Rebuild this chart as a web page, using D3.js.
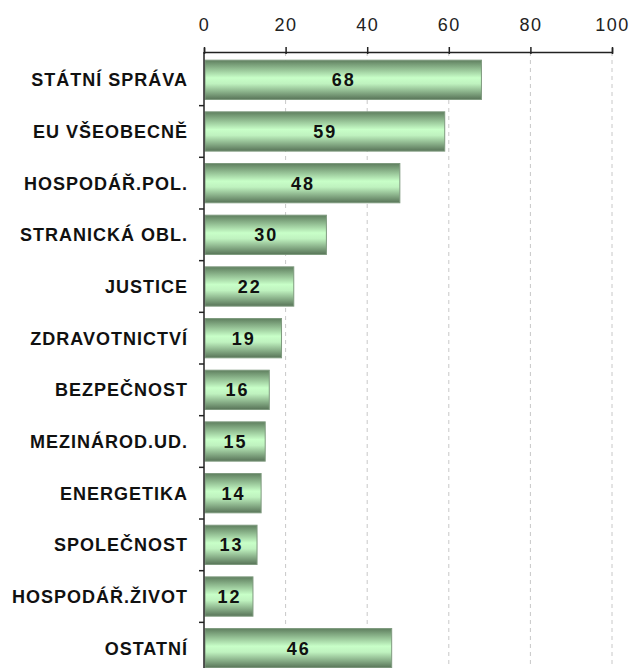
<!DOCTYPE html>
<html lang="cs">
<head>
<meta charset="UTF-8">
<title>Témata</title>
<script src="https://d3js.org/d3.v7.min.js"></script>
<style>
    body { margin: 0; padding: 0; background: #ffffff; }
    svg { display: block; }
    .cat { font-family: "Liberation Sans", Arial, sans-serif; font-weight: bold; font-size: 18px; letter-spacing: 1px; fill: #111; }
    .val { font-family: "Liberation Sans Narrow", "Liberation Sans", Arial, sans-serif; font-weight: bold; font-size: 18px; letter-spacing: 2px; fill: #111; }
    .tick text { font-family: "Liberation Sans Narrow", "Liberation Sans", sans-serif; font-size: 18px; letter-spacing: 1.5px; fill: #222; }
</style>
</head>
<body>
<svg id="chart" width="629" height="668"></svg>
<script>
// data
const categories = ["STÁTNÍ SPRÁVA", "EU VŠEOBECNĚ", "HOSPODÁŘ.POL.", "STRANICKÁ OBL.", "JUSTICE",
    "ZDRAVOTNICTVÍ", "BEZPEČNOST", "MEZINÁROD.UD.", "ENERGETIKA", "SPOLEČNOST", "HOSPODÁŘ.ŽIVOT", "OSTATNÍ"];
const values = [68, 59, 48, 30, 22, 19, 16, 15, 14, 13, 12, 46];
const xTicks = [0, 20, 40, 60, 80, 100];

const svg = d3.select('#chart');
const plotLeft = 204, plotRight = 612, axisY = 52;

const x = d3.scaleLinear().domain([0, 100]).range([plotLeft, plotRight]);
const y = d3.scaleBand().domain(categories).range([55, 673]).paddingInner(0.24).paddingOuter(0.1);

// gradient for the bars
const grad = svg.append('defs').append('linearGradient')
    .attr('id', 'barGrad').attr('x1', 0).attr('y1', 0).attr('x2', 0).attr('y2', 1);
grad.append('stop').attr('offset', '0%').attr('stop-color', '#5f7f5f');
grad.append('stop').attr('offset', '45%').attr('stop-color', '#c8ffc8');
grad.append('stop').attr('offset', '60%').attr('stop-color', '#bff2bf');
grad.append('stop').attr('offset', '100%').attr('stop-color', '#587458');

// dashed gridlines
svg.append('g').selectAll('line').data(xTicks.slice(1)).join('line')
    .attr('x1', d => x(d)).attr('x2', d => x(d))
    .attr('y1', axisY).attr('y2', 668)
    .attr('stroke', '#c8c8c8').attr('stroke-dasharray', '4,4');

// bars
svg.append('g').selectAll('rect').data(values).join('rect')
    .attr('x', x(0) + 1)
    .attr('y', (d, i) => y(categories[i]))
    .attr('width', d => x(d) - x(0) - 1)
    .attr('height', y.bandwidth())
    .attr('fill', 'url(#barGrad)')
    .attr('stroke', '#7e9a7e').attr('stroke-width', 1);

// value labels (dx makes up for the trailing letter-spacing)
svg.append('g').selectAll('text').data(values).join('text')
    .attr('class', 'val')
    .attr('x', d => (x(0) + x(d)) / 2)
    .attr('y', (d, i) => y(categories[i]) + y.bandwidth() / 2)
    .attr('text-anchor', 'middle').attr('dy', '0.36em').attr('dx', 1)
    .text(d => d);

// top axis
const xAxis = svg.append('g').attr('transform', `translate(0,${axisY})`)
    .call(d3.axisTop(x).tickValues(xTicks).tickSize(4).tickPadding(17));
xAxis.select('.domain').attr('stroke', '#222').attr('stroke-width', 1.5);
xAxis.selectAll('.tick line').attr('stroke', '#222').attr('stroke-width', 1.5).attr('y2', -5).attr('y1', 2);
xAxis.selectAll('.tick text').attr('font-family', null).attr('font-size', null);

// left axis with ticks between categories
svg.append('line').attr('x1', plotLeft).attr('x2', plotLeft).attr('y1', axisY).attr('y2', 668)
    .attr('stroke', '#222').attr('stroke-width', 1.5);
const step = y.step();
svg.append('g').selectAll('line').data(categories.slice(1)).join('line')
    .attr('x1', plotLeft - 5).attr('x2', plotLeft)
    .attr('y1', d => y(d) - step * y.paddingInner() / 2)
    .attr('y2', d => y(d) - step * y.paddingInner() / 2)
    .attr('stroke', '#222').attr('stroke-width', 1.5);

// category labels
svg.append('g').selectAll('text').data(categories).join('text')
    .attr('class', 'cat')
    .attr('x', plotLeft - 16)
    .attr('y', d => y(d) + y.bandwidth() / 2)
    .attr('text-anchor', 'end').attr('dy', '0.36em')
    .text(d => d);
</script>
</body>
</html>
